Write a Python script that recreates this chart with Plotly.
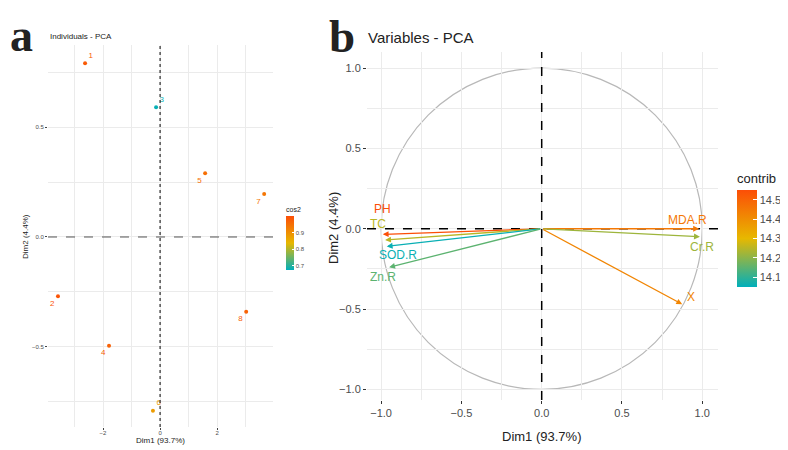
import plotly.graph_objects as go
from plotly.colors import sample_colorscale

# panel a: individuals
ind_names = ["1", "2", "3", "4", "5", "6", "7", "8"]
ind_dim1 = [-2.63, -3.58, -0.14, -1.79, 1.58, -0.25, 3.65, 3.02]
ind_dim2 = [0.79, -0.27, 0.59, -0.495, 0.29, -0.79, 0.195, -0.34]
ind_cos2 = [0.98, 0.99, 0.68, 0.97, 0.95, 0.88, 0.94, 0.97]

# panel b: variables
var_names = ["PH", "TC", "SOD.R", "Zn.R", "MDA.R", "Cr.R", "X"]
var_dim1 = [-0.99, -0.975, -0.965, -0.95, 0.98, 0.985, 0.875]
var_dim2 = [-0.035, -0.07, -0.11, -0.24, 0.0, -0.05, -0.47]
var_contrib = [14.55, 14.25, 14.06, 14.15, 14.45, 14.22, 14.42]

scale = [[0, "#00AFBB"], [0.5, "#E7B800"], [1, "#FC4E07"]]
cos2_rng = (0.675, 1.0)
contrib_rng = (14.05, 14.55)

# page body has an 8px margin, so the figure is a bit smaller and
# positions below are given in window pixels
OFF = 8
W, H = 788 - OFF, 450 - OFF


def fx(p):
    return (p - OFF) / W


def fy(p):
    return 1 - (p - OFF) / H


def col(v, rng):
    return sample_colorscale(scale, [(v - rng[0]) / (rng[1] - rng[0])])[0]


FONT = "Liberation Sans, Arial, sans-serif"
SERIF = "Liberation Serif, Times New Roman, serif"
GRID = "#ebebeb"

ind_pos = ["top right", "bottom left", "top right", "bottom left",
           "bottom left", "top right", "bottom left", "bottom left"]
# pixel offsets of variable labels from arrow tips
lab_off = {"PH": (0, 25), "TC": (-7, 16), "SOD.R": (11, -9), "Zn.R": (-6, -10),
           "MDA.R": (-12, 9), "Cr.R": (2, -10), "X": (9, 7)}

fig = go.Figure()

fig.add_trace(go.Scatter(
    x=ind_dim1, y=ind_dim2, mode="markers+text", text=ind_names,
    textposition=ind_pos,
    textfont=dict(size=8, color=[col(v, cos2_rng) for v in ind_cos2], family=FONT),
    marker=dict(size=4, color=ind_cos2, coloraxis="coloraxis"),
    xaxis="x", yaxis="y", showlegend=False, hoverinfo="skip"))

# invisible trace only for the contrib colorbar
fig.add_trace(go.Scatter(
    x=var_dim1, y=var_dim2, mode="markers",
    marker=dict(size=1, opacity=0, color=var_contrib, coloraxis="coloraxis2"),
    xaxis="x2", yaxis="y2", showlegend=False, hoverinfo="skip"))

ann = []
for n, x, y, c in zip(var_names, var_dim1, var_dim2, var_contrib):
    cc = col(c, contrib_rng)
    ann.append(dict(x=x, y=y, ax=0, ay=0, xref="x2", yref="y2", axref="x2", ayref="y2",
                    text="", showarrow=True, arrowhead=2, arrowsize=0.9, arrowwidth=1.3,
                    arrowcolor=cc))
    dx, dy = lab_off[n]
    ann.append(dict(x=x, y=y, xref="x2", yref="y2", text=n, showarrow=False,
                    xshift=dx, yshift=dy, font=dict(size=12, color=cc, family=FONT)))


def txt(x, y, s, size, **kw):
    d = dict(x=fx(x), y=fy(y), xref="paper", yref="paper", text=s, showarrow=False,
             xanchor="center", yanchor="middle",
             font=dict(size=size, family=kw.pop("family", FONT), color="#222"))
    d.update(kw)
    return d


ann += [
    txt(8, 8, "<b>a</b>", 46, family=SERIF, xanchor="left", yanchor="top"),
    txt(327, 8, "<b>b</b>", 47, family=SERIF, xanchor="left", yanchor="top"),
    txt(48, 37, "Individuals - PCA", 8, xanchor="left"),
    txt(366, 38, "Variables - PCA", 15, xanchor="left"),
    txt(160, 440, "Dim1 (93.7%)", 8),
    txt(25, 237, "Dim2 (4.4%)", 8, textangle=-90),
    txt(541, 436, "Dim1 (93.7%)", 13),
    txt(333, 228, "Dim2 (4.4%)", 13, textangle=-90),
]

shapes = [
    dict(type="line", xref="x", yref="y domain", x0=0, x1=0, y0=0, y1=1,
         line=dict(color="black", width=1, dash="dot")),
    dict(type="line", xref="x domain", yref="y", x0=0, x1=1, y0=0, y1=0,
         line=dict(color="#555", width=1, dash="dash")),
    dict(type="circle", xref="x2", yref="y2", x0=-1, x1=1, y0=-1, y1=1,
         line=dict(color="#b8b8b8", width=1.2), layer="below"),
    dict(type="line", xref="x2", yref="y2 domain", x0=0, x1=0, y0=0, y1=1,
         line=dict(color="black", width=1.5, dash="dash")),
    dict(type="line", xref="x2 domain", yref="y2", x0=0, x1=1, y0=0, y1=0,
         line=dict(color="black", width=1.5, dash="dash")),
]

small_ax = dict(showgrid=True, gridcolor=GRID, gridwidth=1, zeroline=False,
                ticks="outside", ticklen=2, tickcolor="#444", showline=False,
                tickfont=dict(size=6, color="#4d4d4d", family=FONT))
big_ax = dict(showgrid=True, gridcolor=GRID, gridwidth=1, zeroline=False,
              ticks="outside", ticklen=3, tickcolor="#333", showline=False,
              tickfont=dict(size=11, color="#4d4d4d", family=FONT))
minor_q = dict(dtick=0.25, tick0=0.25, showgrid=True, gridcolor=GRID)

fig.update_layout(
    width=W, height=H, margin=dict(l=0, r=0, t=0, b=0),
    plot_bgcolor="white", paper_bgcolor="white",
    xaxis=dict(small_ax, domain=[fx(48), fx(273)], range=[-3.93, 3.96],
               tickvals=[-2, 0, 2], ticklabelstandoff=-2,
               minor=dict(dtick=1, tick0=-3, showgrid=True, gridcolor=GRID),
               anchor="y"),
    yaxis=dict(small_ax, domain=[fy(427), fy(45)], range=[-0.864, 0.873],
               tickvals=[-0.5, 0, 0.5], tickformat=".1f", minor=minor_q, anchor="x"),
    xaxis2=dict(big_ax, domain=[fx(367), fx(718)], range=[-1.088, 1.098],
                tickvals=[-1, -0.5, 0, 0.5, 1], tickformat=".1f", minor=minor_q,
                anchor="y2"),
    yaxis2=dict(big_ax, domain=[fy(400), fy(52)], range=[-1.066, 1.10],
                tickvals=[-1, -0.5, 0, 0.5, 1], tickformat=".1f", minor=minor_q,
                anchor="x2"),
    coloraxis=dict(colorscale=scale, cmin=cos2_rng[0], cmax=cos2_rng[1],
                   colorbar=dict(title=dict(text="cos2", side="top",
                                            font=dict(size=7, family=FONT, color="#222")),
                                 x=fx(286), xanchor="left", xpad=0,
                                 y=fy(204), yanchor="top", ypad=0,
                                 lenmode="pixels", len=66, thickness=8, outlinewidth=0,
                                 tickvals=[0.7, 0.8, 0.9], tickformat=".1f",
                                 ticks="inside", ticklen=2, tickcolor="white",
                                 tickfont=dict(size=6, color="#4d4d4d", family=FONT))),
    coloraxis2=dict(colorscale=scale, cmin=contrib_rng[0], cmax=contrib_rng[1],
                    colorbar=dict(title=dict(text="contrib", side="top",
                                             font=dict(size=13, family=FONT, color="#222")),
                                  x=fx(737), xanchor="left", xpad=0,
                                  y=fy(170), yanchor="top", ypad=0,
                                  lenmode="pixels", len=117, thickness=20, outlinewidth=0,
                                  tickvals=[14.1, 14.2, 14.3, 14.4, 14.5], tickformat=".1f",
                                  ticks="inside", ticklen=4, tickcolor="white",
                                  tickfont=dict(size=11, color="#4d4d4d", family=FONT))),
    annotations=ann, shapes=shapes,
)

fig.write_html("out.html")
